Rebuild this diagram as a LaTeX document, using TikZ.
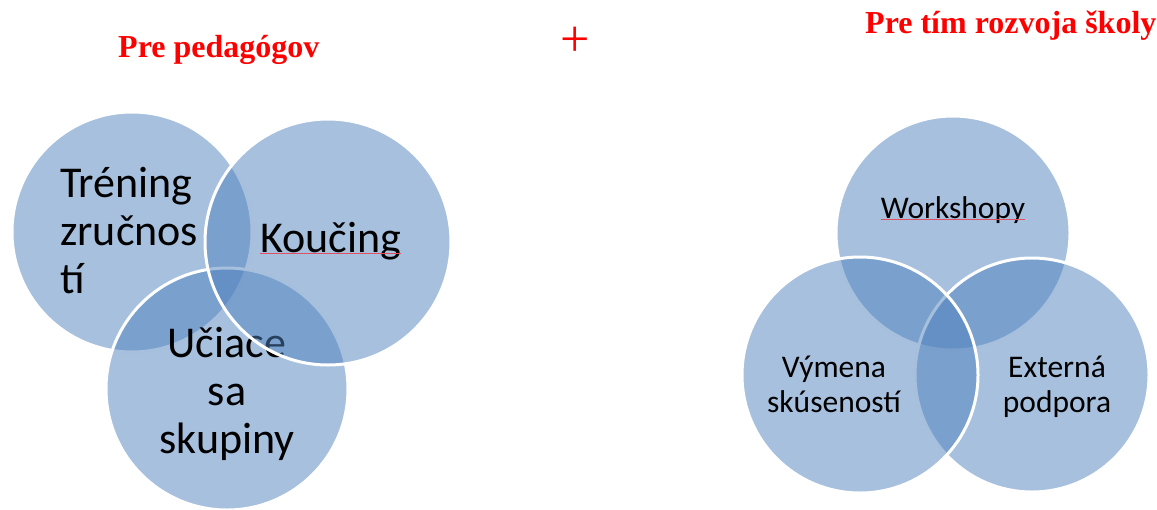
\documentclass[tikz,border=0pt]{standalone}
\usepackage{fontspec}
\setmainfont{Carlito}
\newfontfamily\titlefont{Liberation Serif}
\definecolor{vblue}{HTML}{4F81BD}
\definecolor{tred}{HTML}{FF0000}
\definecolor{spellred}{HTML}{E0505F}
\begin{document}
\begin{tikzpicture}[x=1pt,y=-1pt,
  venn/.style={circle, minimum size=#1, inner sep=0pt, fill=vblue, fill opacity=0.5, draw=white, draw opacity=1, line width=3pt},
  bigtext/.style={inner sep=0pt, font=\fontsize{44}{48}\selectfont},
  smalltext/.style={inner sep=0pt, font=\fontsize{31.5}{35}\selectfont},
  title/.style={inner sep=0pt, text=tred, font=\titlefont\bfseries\fontsize{32}{38}\selectfont},
  squiggle/.style={draw=spellred, line width=0.5pt}]
\useasboundingbox (0,0) rectangle (1157,509);
% titles
\node[title, anchor=base west] (t1) at (118,57) {Pre pedagógov};
\node[inner sep=0pt, text=tred, font=\titlefont\fontsize{52}{60}\selectfont] (plus) at (575.5,42) {+};
\node[title, anchor=base west] (t2) at (865,33) {Pre tím rozvoja školy};
% left diagram
\node[venn=240pt] (A) at (132,232) {};
\node[bigtext, anchor=base west, align=left] (At) at (60,293) {Tréning\\zručnos\\tí};
\node[venn=242pt] (C) at (227,389) {};
\node[bigtext, anchor=base, align=center] (Ct) at (227,453) {Učiace\\sa\\skupiny};
\node[venn=246pt] (B) at (328,242) {};
\node[bigtext, anchor=base west] (Bt) at (260,252) {Koučing};
\draw[squiggle] ([yshift=-1pt]Bt.base west) -- ([yshift=-1pt]Bt.base east);
% right diagram
\node[venn=234pt] (W) at (953,233) {};
\node[smalltext, anchor=base] (Wt) at (953,218) {Workshopy};
\draw[squiggle] ([yshift=-1pt]Wt.base west) -- ([yshift=-1pt]Wt.base east);
\node[venn=234pt] (E) at (1032,375) {};
\node[smalltext, anchor=base, align=center] (Et) at (1057,412) {Externá\\podpora};
\node[venn=236pt] (V) at (860,375) {};
\node[smalltext, anchor=base, align=center] (Vt) at (834,412) {Výmena\\skúseností};
\end{tikzpicture}
\end{document}
